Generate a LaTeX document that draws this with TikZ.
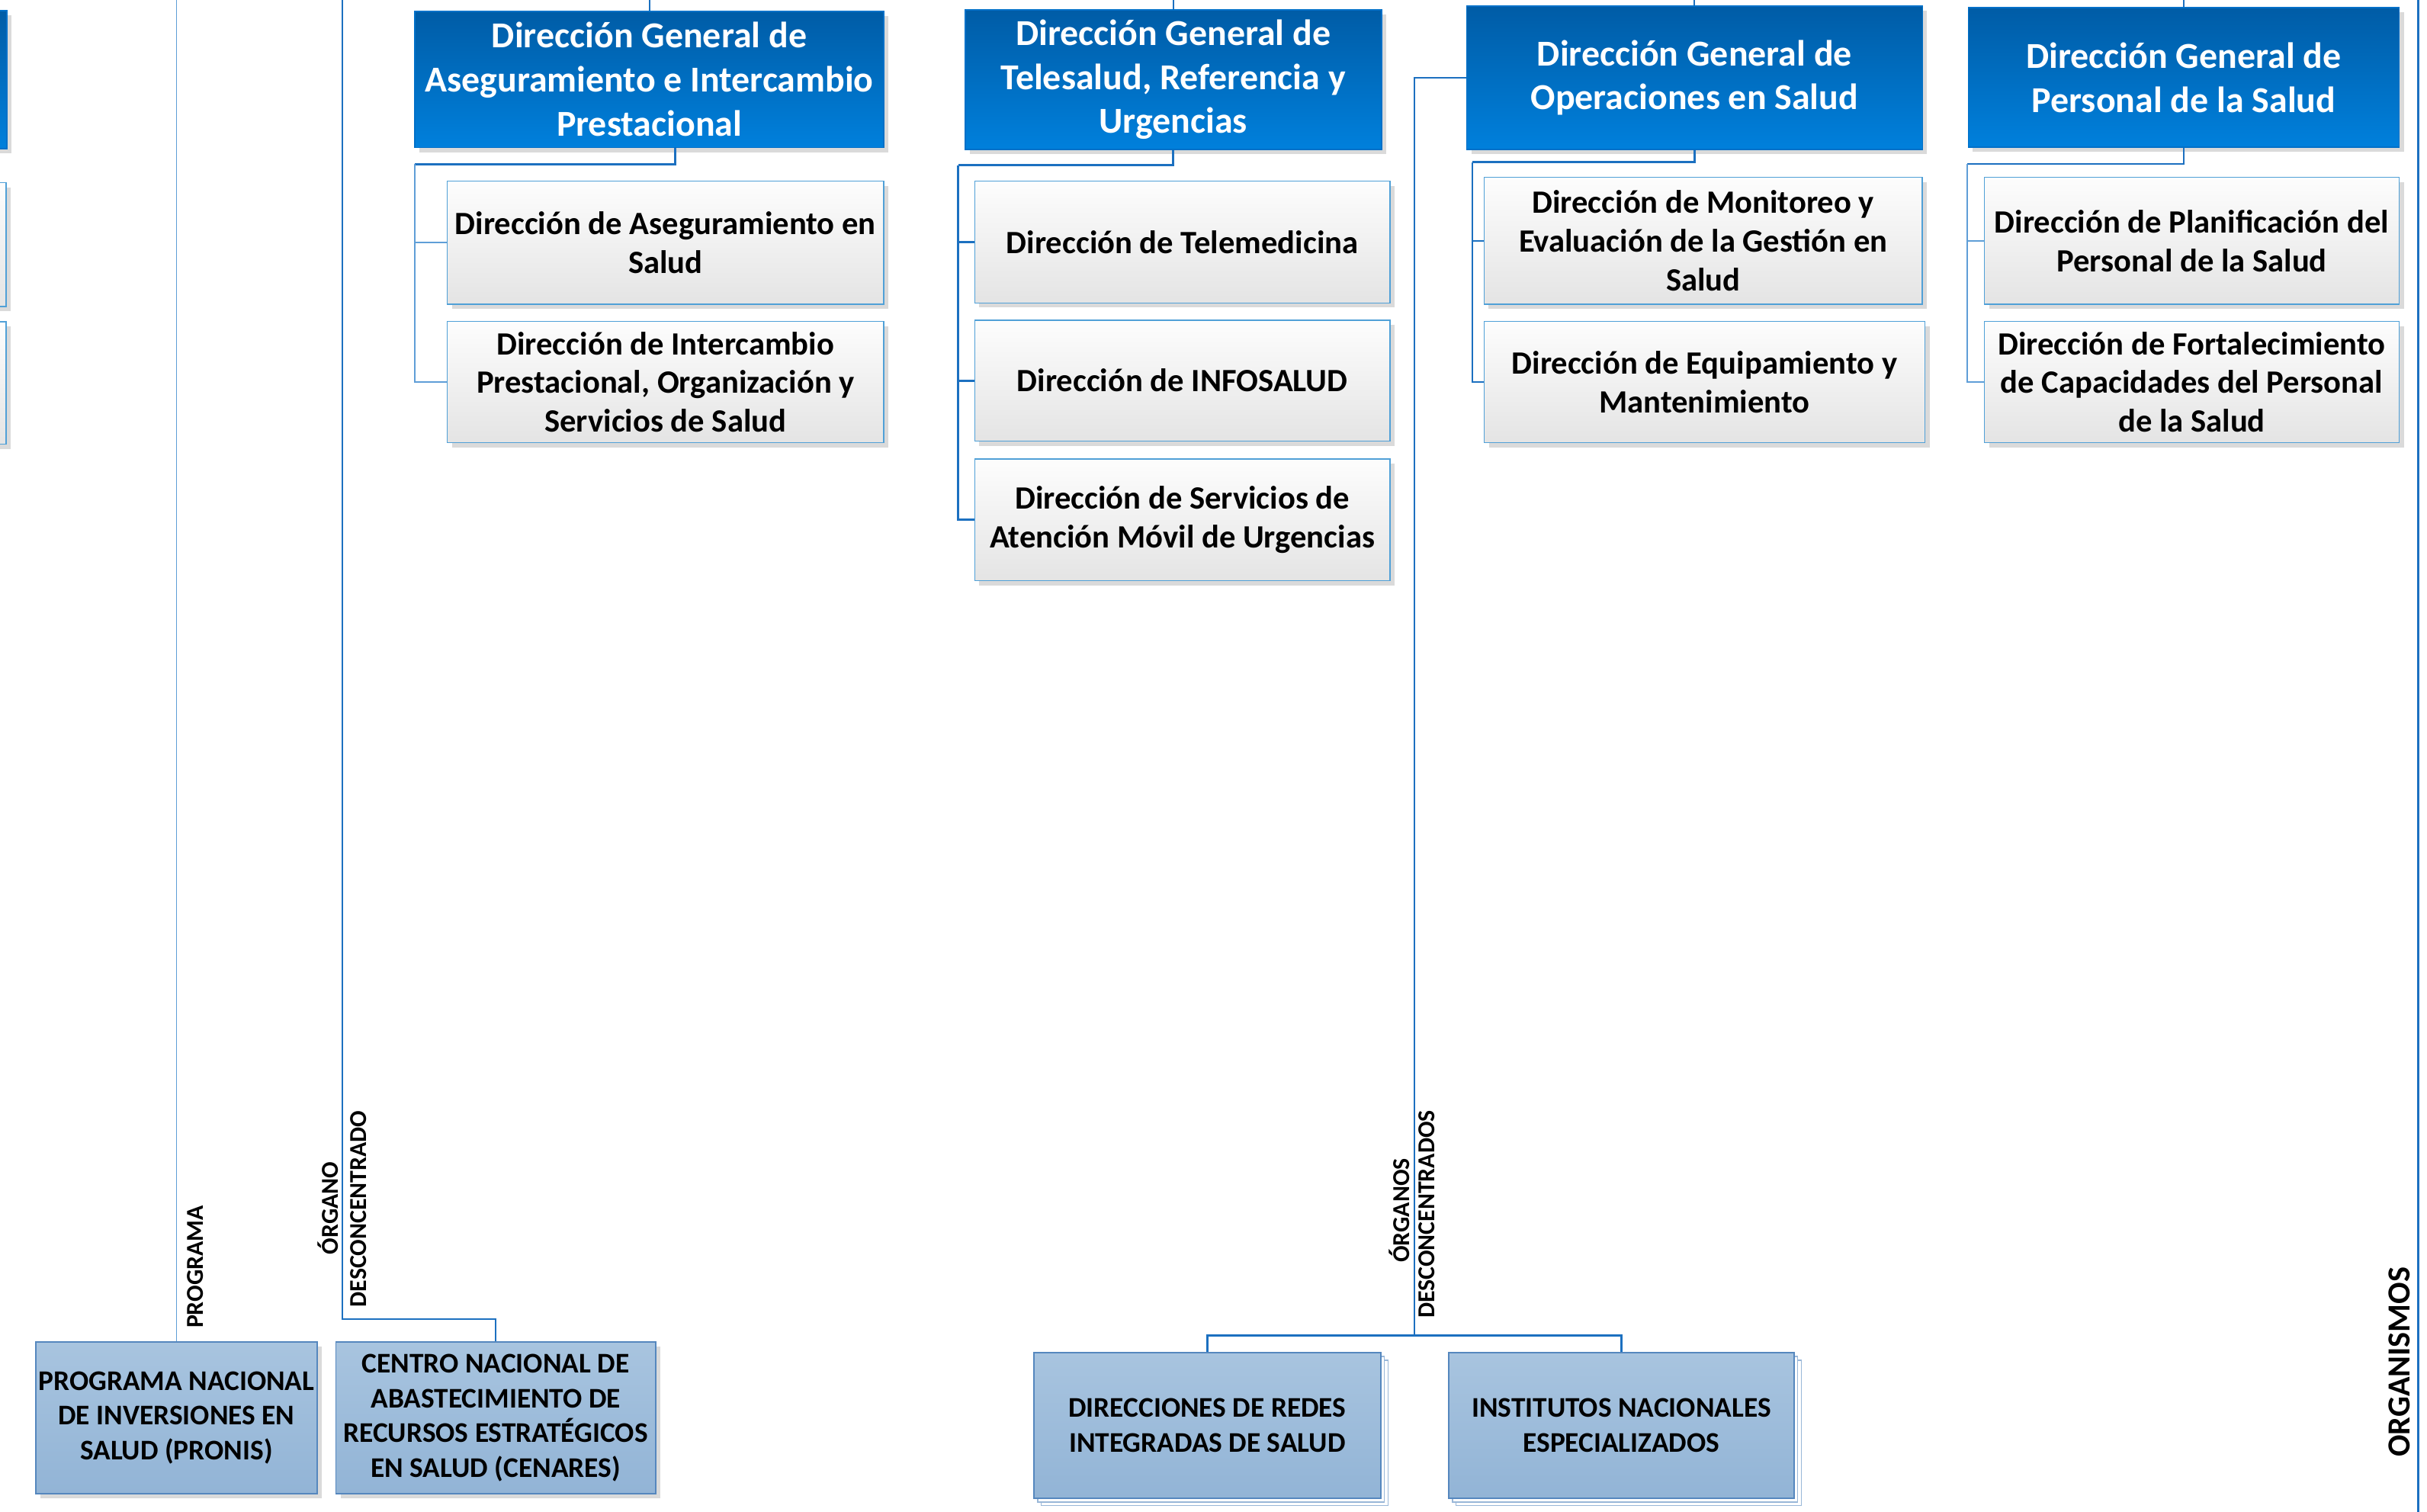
\documentclass[tikz,border=0pt]{standalone}
\usepackage{fontspec}
\setmainfont{Carlito}
\usetikzlibrary{shadows,calc}
\definecolor{hdrtop}{RGB}{0,92,166}
\definecolor{hdrbot}{RGB}{0,128,220}
\definecolor{hdrline}{RGB}{0,112,200}
\definecolor{subtop}{RGB}{253,253,253}
\definecolor{subbot}{RGB}{228,228,228}
\definecolor{subline}{RGB}{80,160,215}
\definecolor{bottop}{RGB}{168,196,223}
\definecolor{botbot}{RGB}{146,180,214}
\definecolor{botline}{RGB}{85,135,190}
\definecolor{linblue}{RGB}{28,112,192}
\definecolor{linlight}{RGB}{95,158,215}
\definecolor{shad}{RGB}{218,218,218}
\tikzset{
  hdr/.style={draw=hdrline, line width=0.8pt, top color=hdrtop, bottom color=hdrbot,
    text=white, align=center, inner sep=0pt,
    font=\bfseries\fontsize{23.6}{28.5}\selectfont,
    drop shadow={shadow xshift=3pt, shadow yshift=-3pt, fill=shad, opacity=1}},
  sub/.style={draw=subline, line width=0.8pt, top color=subtop, bottom color=subbot,
    text=black, align=center, inner sep=0pt,
    font=\bfseries\fontsize{21}{25}\selectfont,
    drop shadow={shadow xshift=3pt, shadow yshift=-3pt, fill=shad, opacity=1}},
  bot/.style={draw=botline, line width=0.8pt, top color=bottop, bottom color=botbot,
    text=black, align=center, inner sep=0pt,
    font=\bfseries\fontsize{18.4}{22.5}\selectfont},
  botshadow/.style={drop shadow={shadow xshift=3pt, shadow yshift=-3pt, fill=shad, opacity=1}},
  botstack/.style={double copy shadow={shadow xshift=2.4pt, shadow yshift=-2.4pt, fill=white, draw=botline!60, line width=0.6pt}},
  connthick/.style={draw=linblue, line width=1.4pt},
  connmed/.style={draw=linblue, line width=1.0pt},
  connthin/.style={draw=linlight, line width=0.8pt},
  vlabel/.style={rotate=90, anchor=base, inner sep=0pt, text=black,
    font=\bfseries\fontsize{15.7}{17}\selectfont},
}
\begin{document}
\begin{tikzpicture}[x=1pt, y=-1pt]
\useasboundingbox (0,0) rectangle (1568,976.4);
\clip (0,0) rectangle (1568,976.4);
\coordinate (top) at (0,-3);
\coordinate (bottom) at (0,980);

% partial boxes at the left edge
\node[hdr, minimum width=294.5pt, minimum height=89pt] (hL) at (-142.75,51.5) {};
\node[sub, minimum width=294pt, minimum height=80pt] (sL1) at (-143,158) {};
\node[sub, minimum width=294pt, minimum height=79pt] (sL2) at (-143,247.5) {};

% headers
\node[hdr, minimum width=303pt, minimum height=88pt] (h1) at (419.5,51.3)
  {Dirección General de\\Aseguramiento e Intercambio\\Prestacional};
\node[hdr, minimum width=269pt, minimum height=90pt] (h2) at (758,51.4)
  {Dirección General de\\Telesalud, Referencia y\\Urgencias};
\node[hdr, minimum width=294.5pt, minimum height=92.5pt] (h3) at (1094.8,50.2)
  {Dirección General de\\Operaciones en Salud};
\node[hdr, minimum width=278.4pt, minimum height=90pt] (h4) at (1410.8,50)
  {Dirección General de\\Personal de la Salud};

% sub-directorates
\node[sub, minimum width=282pt, minimum height=79.6pt] (a1) at (430,156.8)
  {Dirección de Aseguramiento en\\Salud};
\node[sub, minimum width=282pt, minimum height=78.4pt] (a2) at (430,246.8)
  {Dirección de Intercambio\\Prestacional, Organización y\\Servicios de Salud};
\node[sub, minimum width=268.3pt, minimum height=78.7pt] (t1) at (763.9,156.4)
  {Dirección de Telemedicina};
\node[sub, minimum width=268.3pt, minimum height=78.2pt] (t2) at (763.9,245.9)
  {Dirección de INFOSALUD};
\node[sub, minimum width=268.3pt, minimum height=78.8pt] (t3) at (763.9,335.8)
  {Dirección de Servicios de\\Atención Móvil de Urgencias};
\node[sub, minimum width=283.2pt, minimum height=82.2pt] (o1) at (1100.4,155.6)
  {Dirección de Monitoreo y\\Evaluación de la Gestión en\\Salud};
\node[sub, minimum width=284.7pt, minimum height=78.4pt] (o2) at (1101.2,246.8)
  {Dirección de Equipamiento y\\Mantenimiento};
\node[sub, minimum width=268pt, minimum height=82.2pt] (p1) at (1416,155.6)
  {Dirección de Planificación del\\Personal de la Salud};
\node[sub, minimum width=268pt, minimum height=78.4pt] (p2) at (1416,246.8)
  {Dirección de Fortalecimiento\\de Capacidades del Personal\\de la Salud};

% bottom boxes
\node[bot, botshadow, minimum width=182pt, minimum height=98pt] (pronis) at (114,916)
  {PROGRAMA NACIONAL\\DE INVERSIONES EN\\SALUD (PRONIS)};
\node[bot, botshadow, minimum width=206.5pt, minimum height=98pt] (cenares) at (320.25,916)
  {CENTRO NACIONAL DE\\ABASTECIMIENTO DE\\RECURSOS ESTRATÉGICOS\\EN SALUD (CENARES)};
\node[bot, botstack, minimum width=224pt, minimum height=94pt] (redes) at (780,921)
  {DIRECCIONES DE REDES\\INTEGRADAS DE SALUD};
\node[bot, botstack, minimum width=223pt, minimum height=94pt] (inst) at (1047.5,921)
  {INSTITUTOS NACIONALES\\ESPECIALIZADOS};

% connectors above the headers
\draw[connmed] (h1.north) -- (h1.north |- top);
\draw[connmed] (h2.north) -- (h2.north |- top);
\draw[connmed] (h3.north) -- (h3.north |- top);
\draw[connmed] (h4.north) -- (h4.north |- top);

% group: Aseguramiento
\coordinate (jA) at (268,106);
\draw[connthick] ([xshift=16.5pt]h1.south) |- (jA);
\draw[connthin] (jA) |- (a1.west);
\draw[connthin] (jA) |- (a2.west);

% group: Telesalud
\coordinate (jT) at (619,106.7);
\draw[connthick] (h2.south) |- (jT);
\draw[connthick] (jT) |- (t1.west);
\draw[connthick] (jT) |- (t2.west);
\draw[connthick] (jT) |- (t3.west);

% group: Operaciones
\coordinate (jO) at (951,104.7);
\draw[connthick] (h3.south) |- (jO);
\draw[connmed] (jO) |- (o1.west);
\draw[connmed] (jO) |- (o2.west);

% group: Personal
\coordinate (jP) at (1271,105.7);
\draw[connmed] (h4.south) |- (jP);
\draw[connthin] (jP) |- (p1.west);
\draw[connthin] (jP) |- (p2.west);

% organos desconcentrados
\coordinate (jD) at (914,863);
\draw[connmed] (h3.west) -| (jD);
\draw[connthick] (jD) -| (redes.north);
\draw[connthick] (jD) -| (inst.north);

% programa
\draw[connthin] (pronis.north) -- (pronis.north |- top);

% cenares
\coordinate (jC) at (221,852);
\draw[connmed] (jC |- top) -- (jC) -| (cenares.north);

% right line
\coordinate (rT) at (1562.5,-3);
\coordinate (rB) at (1562.5,980);
\draw[connthick] (rT) -- (rB);

% vertical labels
\node[vlabel] (lprog) at (131.4,818.5) {PROGRAMA};
\node[vlabel] (lorg1) at (218.5,780.5) {ÓRGANO};
\node[vlabel] (lorg2) at (236.5,781) {DESCONCENTRADO};
\node[vlabel] (lorgs1) at (910.5,782) {ÓRGANOS};
\node[vlabel] (lorgs2) at (927,784.5) {DESCONCENTRADOS};
\node[vlabel, font=\bfseries\fontsize{20.8}{24}\selectfont] (lorgm) at (1556.7,880) {ORGANISMOS};
\end{tikzpicture}
\end{document}
